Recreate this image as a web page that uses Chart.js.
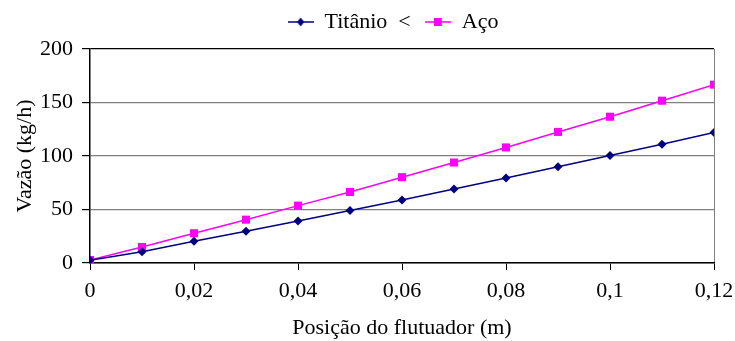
<!DOCTYPE html>
<html>
<head>
<meta charset="utf-8">
<script src="https://cdn.jsdelivr.net/npm/chart.js@4.4.0/dist/chart.umd.min.js"></script>
<style>
  html, body { margin: 0; padding: 0; background: #fff; }
  #wrap { width: 735px; height: 341px; }
</style>
</head>
<body>
<div id="wrap"><canvas id="grafico"></canvas></div>
<script>
// posição do flutuador (m) e vazão (kg/h)
var posicao = [0, 0.01, 0.02, 0.03, 0.04, 0.05, 0.06, 0.07, 0.08, 0.09, 0.1, 0.11, 0.12];
var titanio = [2.5, 10.6, 20.3, 29.7, 39.3, 49, 58.9, 69.2, 79.5, 89.9, 100.4, 110.9, 121.9];
var aco = [2.8, 15, 27.8, 40.5, 53.6, 66.4, 80.2, 93.9, 108, 122.5, 136.7, 151.7, 166.7];
var nomes = ["Titânio  <", "Aço"];

var fonte = "'Liberation Serif', 'Times New Roman', serif";
var tam = 22;

function pontos(ys) {
    let out = [];
    for (let i = 0; i < posicao.length; i++) {
        out.push({x: posicao[i], y: ys[i]});
    }
    return out;
}

// marcador da legenda: linha + ponto
function marcaLegenda(cor, estilo) {
    let c = document.createElement("canvas");
    c.width = 26; c.height = 12;
    let g = c.getContext("2d");
    g.strokeStyle = cor;
    g.lineWidth = 1.5;
    g.beginPath(); g.moveTo(0, 6); g.lineTo(26, 6); g.stroke();
    g.fillStyle = cor;
    if (estilo == "rect") {
        g.fillRect(9, 2, 8, 8);
    } else {
        g.beginPath();
        g.moveTo(13, 1.5); g.lineTo(16.5, 6); g.lineTo(13, 10.5); g.lineTo(9.5, 6);
        g.closePath(); g.fill();
    }
    return c;
}

// legenda um pouco mais à direita e mais acima, como no original
var moveLegenda = {
    id: "moveLegenda",
    afterLayout: function (ch) {
        ch.legend.left += 36;
        ch.legend.right += 36;
        ch.legend.top -= 6;
        ch.legend.bottom -= 6;
    }
};

var ctx = document.getElementById("grafico").getContext("2d");
var chart = new Chart(ctx, {
    type: "line",
    data: {
        datasets: [
            {
                label: nomes[0],
                data: pontos(titanio),
                borderColor: "#000080",
                backgroundColor: "#000080",
                borderWidth: 1.5,
                pointStyle: "rectRot",
                pointRadius: 4.5,
                pointBorderWidth: 0
            },
            {
                label: nomes[1],
                data: pontos(aco),
                borderColor: "#FF00FF",
                backgroundColor: "#FF00FF",
                borderWidth: 1.5,
                pointStyle: "rect",
                pointRadius: 5.7,
                pointBorderWidth: 0
            }
        ]
    },
    plugins: [moveLegenda],
    options: {
        responsive: true,
        maintainAspectRatio: false,
        animation: false,
        layout: { padding: { top: 3, right: 21, left: 0, bottom: 0 } },
        plugins: {
            tooltip: { enabled: false },
            legend: {
                position: "top",
                labels: {
                    color: "#000",
                    font: { family: fonte, size: tam },
                    usePointStyle: true,
                    pointStyleWidth: 26,
                    padding: 14,
                    generateLabels: function (ch) {
                        return ch.data.datasets.map(function (ds, i) {
                            return {
                                text: ds.label,
                                pointStyle: marcaLegenda(ds.borderColor, ds.pointStyle),
                                fillStyle: ds.borderColor,
                                strokeStyle: ds.borderColor,
                                lineWidth: 0,
                                datasetIndex: i
                            };
                        });
                    }
                }
            }
        },
        scales: {
            x: {
                type: "linear",
                min: 0,
                max: 0.12,
                afterFit: function (s) {
                    s.height = 78;
                    s.paddingRight = 0;
                    s.paddingLeft = 0;
                },
                ticks: {
                    stepSize: 0.02,
                    color: "#000",
                    font: { family: fonte, size: tam },
                    padding: 8,
                    maxRotation: 0,
                    callback: function (v) {
                        return String(Number(v.toFixed(2))).replace(".", ",");
                    }
                },
                grid: {
                    color: function (c) { return c.tick && Math.abs(c.tick.value - 0.12) < 1e-9 ? "#808080" : "rgba(0,0,0,0)"; },
                    tickColor: "#000",
                    tickLength: 7,
                    lineWidth: 1
                },
                border: { color: "#000", width: 1.5 },
                title: {
                    display: true,
                    text: "Posição do flutuador (m)",
                    color: "#000",
                    font: { family: fonte, size: tam },
                    padding: { top: 4, bottom: 0 }
                }
            },
            y: {
                min: 0,
                max: 200,
                afterFit: function (s) { s.width = 90; },
                ticks: {
                    stepSize: 50,
                    color: "#000",
                    font: { family: fonte, size: tam },
                    padding: 9
                },
                grid: {
                    color: function (c) { return c.tick && c.tick.value == 200 ? "#000" : "#808080"; },
                    tickColor: "#000",
                    tickLength: 8,
                    lineWidth: 1.2
                },
                border: { color: "#000", width: 1.5 },
                title: {
                    display: true,
                    text: "Vazão (kg/h)",
                    color: "#000",
                    font: { family: fonte, size: tam },
                    padding: { top: 12, bottom: 0 }
                }
            }
        }
    }
});
</script>
</body>
</html>
